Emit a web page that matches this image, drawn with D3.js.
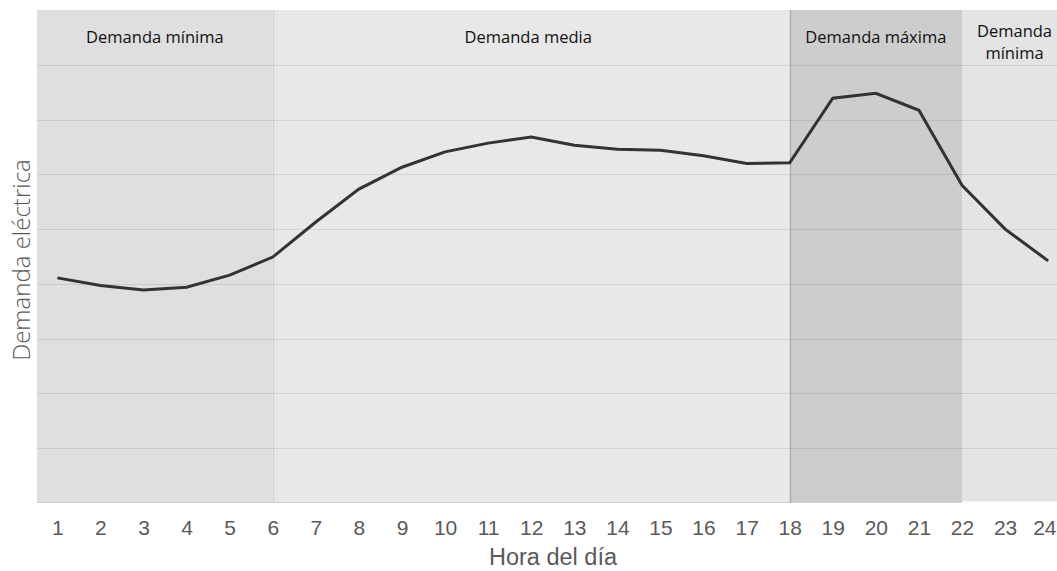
<!DOCTYPE html>
<html>
<head>
<meta charset="utf-8">
<script src="https://cdn.jsdelivr.net/npm/d3@7"></script>
<style>
  html, body { margin: 0; padding: 0; background: #ffffff; }
  svg { display: block; }
</style>
</head>
<body>
<svg id="chart" width="1057" height="571"></svg>
<script>
// ---- data ----
const hours = [1,2,3,4,5,6,7,8,9,10,11,12,13,14,15,16,17,18,19,20,21,22,23,24];
const demand = [4.11,3.97,3.89,3.94,4.16,4.49,5.13,5.73,6.13,6.41,6.57,6.68,6.53,6.46,6.44,6.34,6.20,6.21,7.39,7.48,7.17,5.80,5.00,4.42];
const bandLabels = [["Demanda mínima"], ["Demanda media"], ["Demanda máxima"], ["Demanda", "mínima"]];
const bandStarts = [0.5, 6, 18, 22];
const bandEnds = [6, 18, 22, 24.5];
const yTicks = [1,2,3,4,5,6,7,8];
const xTitle = "Hora del día";
const yTitle = "Demanda eléctrica";

// ---- layout ----
const W = 1057, H = 571;
const svg = d3.select("#chart");
const x = d3.scaleLinear().domain([0.5, 24.5]).range([35.8, 35.8 + 24 * 43.08]);
const y = d3.scaleLinear().domain([0, 9]).range([503, 10]);
const bandFill = ["#dfdfdf", "#e8e8e8", "#cdcdcd", "#e4e4e4"];
const sepColor = ["none", "#d2d2d2", "#a9a9a9", "none"];

const plotLeft = 37;
const plotRight = W;

// bands
const bands = bandStarts.map((s, i) => ({ s, e: bandEnds[i], label: bandLabels[i], i }));
const bx0 = d => Math.max(x(d.s), plotLeft);
const bx1 = d => Math.min(x(d.e), plotRight);
svg.append("g").selectAll("rect").data(bands).join("rect")
  .attr("x", bx0)
  .attr("y", y(9))
  .attr("width", d => bx1(d) - bx0(d))
  .attr("height", d => (d.i === 3 ? y(0) - 1.5 : y(0)) - y(9))
  .attr("fill", d => bandFill[d.i]);

// horizontal gridlines
svg.append("g").selectAll("line").data(yTicks).join("line")
  .attr("x1", plotLeft).attr("x2", plotRight)
  .attr("y1", d => Math.round(y(d)) + 0.5).attr("y2", d => Math.round(y(d)) + 0.5)
  .attr("stroke", "rgba(0,0,0,0.09)").attr("stroke-width", 1.2);

// bottom edge
svg.append("line")
  .attr("x1", plotLeft).attr("x2", x(22))
  .attr("y1", y(0) - 0.5).attr("y2", y(0) - 0.5)
  .attr("stroke", "#cfcfcf").attr("stroke-width", 1);

// band separators
svg.append("g").selectAll("line").data(bands.filter(d => sepColor[d.i] !== "none")).join("line")
  .attr("x1", d => Math.round(x(d.s)) + 0.5).attr("x2", d => Math.round(x(d.s)) + 0.5)
  .attr("y1", y(9)).attr("y2", y(0))
  .attr("stroke", d => sepColor[d.i]).attr("stroke-width", 1.3);

// band labels
const lbl = svg.append("g").selectAll("text").data(bands).join("text")
  .attr("x", d => (bx0(d) + bx1(d)) / 2 + (d.i === 3 ? 5 : 0) - (d.i === 1 ? 3 : 0))
  .attr("y", d => d.label.length > 1 ? 37 : 43)
  .attr("text-anchor", "middle")
  .attr("font-family", "'Open Sans', 'Noto Sans', sans-serif")
  .attr("font-size", 16.5)
  .attr("fill", "#111");
lbl.each(function(d) {
  const t = d3.select(this);
  d.label.forEach((line, k) => {
    t.append("tspan").attr("x", t.attr("x")).attr("dy", k === 0 ? 0 : 22).text(line);
  });
});

// line
const line = d3.line().x((d, i) => x(hours[i])).y(d => y(d));
svg.append("path")
  .datum(demand)
  .attr("d", line)
  .attr("fill", "none")
  .attr("stroke", "#333333")
  .attr("stroke-width", 3)
  .attr("stroke-linejoin", "miter");

// x axis
const xAxis = d3.axisBottom(x).tickValues(hours).tickSize(0).tickPadding(0).tickFormat(d3.format("d"));
const gx = svg.append("g").attr("transform", `translate(0, ${y(0)})`).call(xAxis);
gx.select(".domain").remove();
gx.selectAll("text")
  .attr("y", 32).attr("dy", 0)
  .attr("font-family", "'Liberation Sans', Arial, sans-serif")
  .attr("font-size", 21)
  .attr("fill", "#595959");
// keep the last label inside the window
gx.selectAll(".tick").filter(d => d === hours[hours.length - 1]).select("text")
  .attr("text-anchor", "end")
  .attr("x", W - 1 - x(hours[hours.length - 1]));

// axis titles
svg.append("text")
  .attr("x", 553).attr("y", 565)
  .attr("text-anchor", "middle")
  .attr("font-family", "'Liberation Sans', Arial, sans-serif")
  .attr("font-size", 23.5)
  .attr("fill", "#595959")
  .text(xTitle);

svg.append("text")
  .attr("transform", "translate(30, 260) rotate(-90)")
  .attr("text-anchor", "middle")
  .attr("font-family", "'Open Sans', 'Noto Sans', sans-serif")
  .attr("font-weight", 300)
  .attr("font-size", 24)
  .attr("fill", "#595959")
  .text(yTitle);
</script>
</body>
</html>
